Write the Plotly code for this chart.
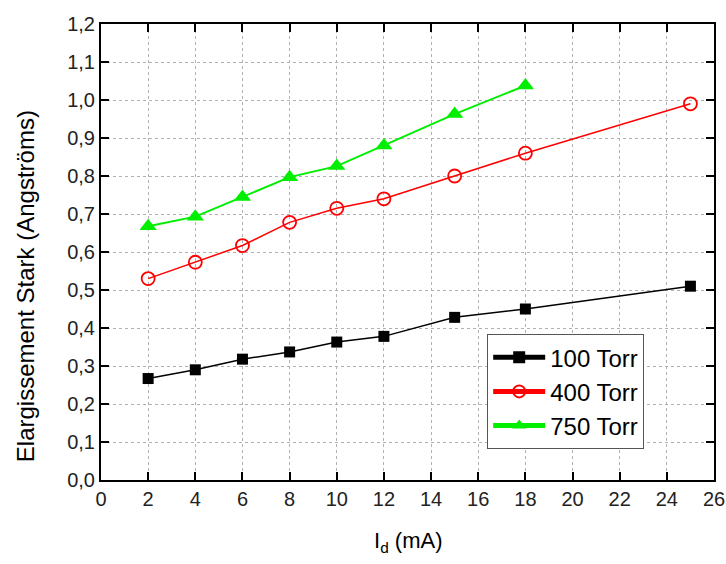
import plotly.graph_objects as go

x_100 = [2, 4, 6, 8, 10, 12, 15, 18, 25]
y_100 = [0.267, 0.290, 0.318, 0.337, 0.363, 0.378, 0.428, 0.450, 0.510]
x_400 = [2, 4, 6, 8, 10, 12, 15, 18, 25]
y_400 = [0.530, 0.573, 0.617, 0.678, 0.715, 0.740, 0.800, 0.860, 0.990]
x_750 = [2, 4, 6, 8, 10, 12, 15, 18]
y_750 = [0.668, 0.693, 0.745, 0.797, 0.826, 0.880, 0.963, 1.038]
names = ["100 Torr", "400 Torr", "750 Torr"]

FONT = "Liberation Sans, Arial, sans-serif"
fig = go.Figure()
fig.add_trace(go.Scatter(x=x_100, y=y_100, name=names[0], mode="lines+markers",
                         line=dict(color="black", width=1.5),
                         marker=dict(symbol="square", size=11, color="black")))
fig.add_trace(go.Scatter(x=x_400, y=y_400, name=names[1], mode="lines+markers",
                         line=dict(color="#ff0000", width=1.5),
                         marker=dict(symbol="circle-open", size=13, color="#ff0000",
                                     line=dict(width=1.8, color="#ff0000"))))
fig.add_trace(go.Scatter(x=x_750, y=y_750, name=names[2], mode="lines+markers",
                         line=dict(color="#00ee00", width=2),
                         marker=dict(symbol="triangle-up", size=15, color="#00ee00")))

axis_common = dict(showline=True, linecolor="black", linewidth=2, mirror="ticks",
                   ticks="inside", ticklen=8, tickwidth=1.5, tickcolor="black",
                   showgrid=True, gridcolor="#b0b0b0", griddash="dot", gridwidth=1,
                   zeroline=False, automargin=False, ticklabeloverflow="allow",
                   tickfont=dict(family=FONT, size=20, color="#222"))

fig.update_xaxes(range=[0, 26], tick0=0, dtick=2, **axis_common)
fig.update_yaxes(range=[0, 1.2], tick0=0, dtick=0.1, tickformat=".1f", **axis_common)

fig.update_layout(
    width=726, height=564,
    margin=dict(l=101, r=12, t=24, b=84, autoexpand=False),
    paper_bgcolor="white", plot_bgcolor="white",
    separators=", ",
    font=dict(family=FONT, color="black"),
    showlegend=True,
    legend=dict(x=0.63, y=0.32, xanchor="left", yanchor="top",
                bordercolor="#555", borderwidth=1, bgcolor="white",
                font=dict(family=FONT, size=24, color="black"),
                itemsizing="constant", itemwidth=52, tracegroupgap=2),
    annotations=[
        dict(text="Elargissement Stark (Angströms)", xref="paper", yref="paper",
             x=-0.124, y=0.425, textangle=-90, showarrow=False,
             xanchor="center", yanchor="middle",
             font=dict(family=FONT, size=24, color="black")),
        dict(text="I<sub>d</sub> (mA)", xref="paper", yref="paper",
             x=0.5, y=-0.135, showarrow=False, xanchor="center", yanchor="middle",
             font=dict(family=FONT, size=22, color="black")),
    ],
)

fig.write_html("out.html", config={"displayModeBar": False},
               post_script="document.body.style.margin='0';document.body.style.overflow='hidden';")
